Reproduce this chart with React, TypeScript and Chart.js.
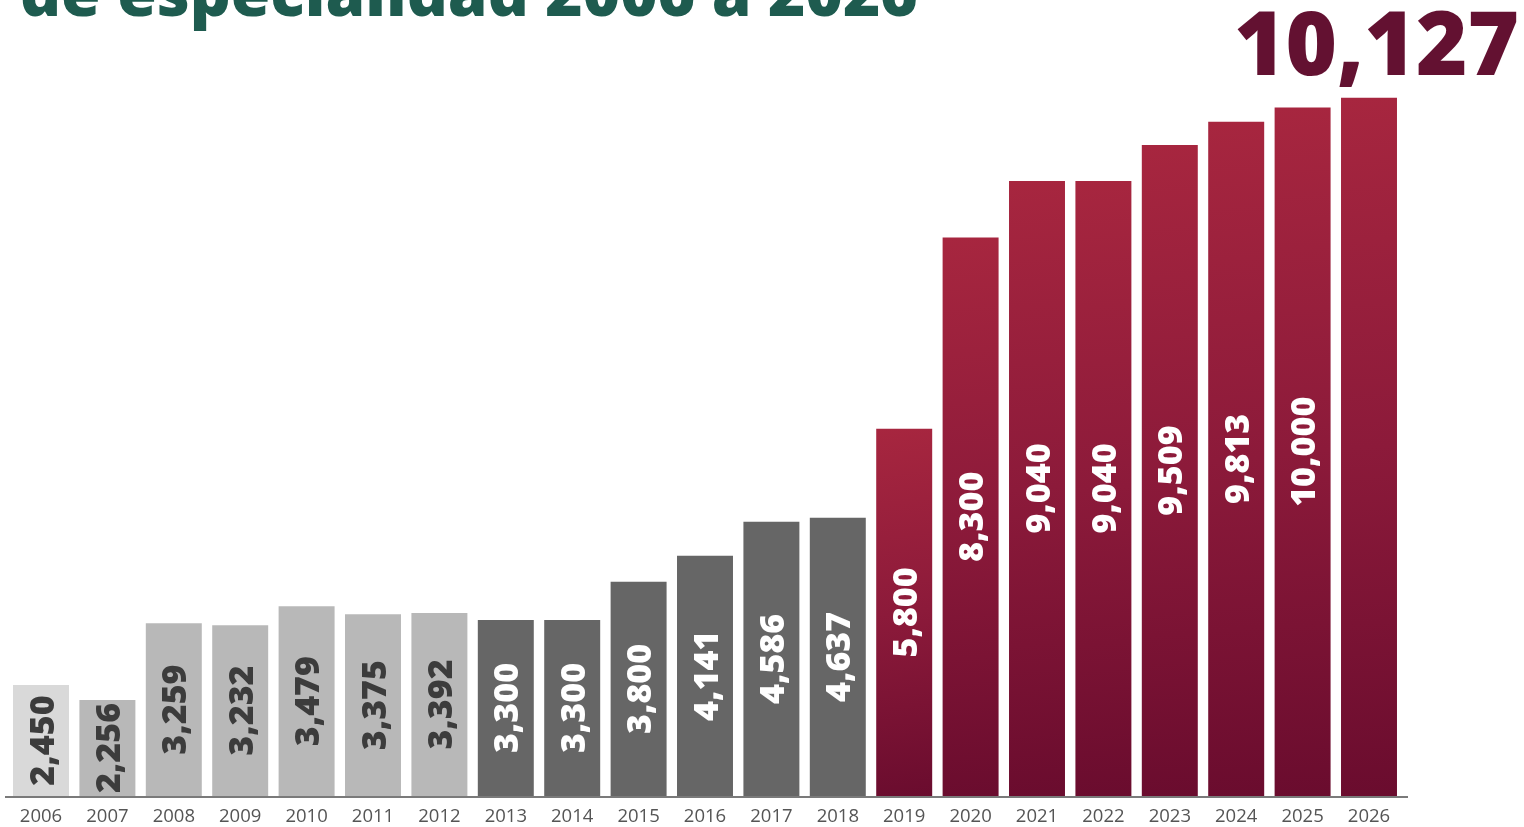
import React, { useEffect, useRef } from "react";
import { Chart, registerables } from "chart.js";

Chart.register(...registerables);

const years = ["2006","2007","2008","2009","2010","2011","2012","2013","2014","2015","2016","2017","2018","2019","2020","2021","2022","2023","2024","2025","2026"];
const plazas = [2450,2256,3259,3232,3479,3375,3392,3300,3300,3800,4141,4586,4637,5800,8300,9040,9040,9509,9813,10000,10127];
const titleLine = "de especialidad 2006 a 2026";
const highlightValue = "10,127";

const Y_MIN = 1000;
const Y_MAX = 10200;

function fmt(v: number) {
  return v.toLocaleString("en-US");
}

function baseColor(i: number) {
  const y = parseInt(years[i], 10);
  if (y <= 2006) return "#d9d9d9";
  if (y <= 2012) return "#b8b8b8";
  if (y <= 2018) return "#666666";
  return "#8a1538";
}

const overlay = {
  id: "overlay",
  afterDatasetsDraw(chart: any) {
    const ctx = chart.ctx as CanvasRenderingContext2D;
    const xS = chart.scales.x;
    const yS = chart.scales.y;
    const base = yS.getPixelForValue(Y_MIN);
    ctx.save();
    // axis line
    ctx.strokeStyle = "#7a7a7a";
    ctx.lineWidth = 2;
    ctx.beginPath();
    ctx.moveTo(5, base + 1);
    ctx.lineTo(1408, base + 1);
    ctx.stroke();
    // tick labels
    ctx.fillStyle = "#555555";
    ctx.font = "18.5px 'Open Sans'";
    ctx.textAlign = "center";
    ctx.textBaseline = "middle";
    years.forEach((yr, i) => {
      ctx.fillText(yr, xS.getPixelForValue(i), base + 21);
    });
    // value labels (last bar's value is shown as the highlight number)
    ctx.font = "800 34px 'Open Sans'";
    plazas.forEach((v, i) => {
      if (i === plazas.length - 1) return;
      const x = xS.getPixelForValue(i);
      const top = yS.getPixelForValue(v);
      const cy = (top + base) / 2;
      ctx.save();
      ctx.translate(x + 1, cy);
      ctx.rotate(-Math.PI / 2);
      ctx.fillStyle = parseInt(years[i], 10) <= 2012 ? "#3c3c3c" : "#ffffff";
      ctx.textAlign = "center";
      ctx.textBaseline = "middle";
      ctx.fillText(fmt(v), 0, 2);
      ctx.restore();
    });
    // title line (partially cut by top edge)
    let ts = 64;
    ctx.font = `800 ${ts}px 'Open Sans'`;
    const w = ctx.measureText(titleLine).width;
    ts = ts * 898 / w;
    ctx.font = `800 ${ts}px 'Open Sans'`;
    ctx.fillStyle = "#1e5b4f";
    ctx.textAlign = "left";
    ctx.textBaseline = "alphabetic";
    ctx.fillText(titleLine, 20, 16);
    // highlight number
    ctx.font = "800 88px 'Open Sans'";
    ctx.fillStyle = "#631131";
    ctx.textAlign = "right";
    ctx.fillText(highlightValue, 1519, 75);
    ctx.restore();
  },
};

export default function App() {
  const ref = useRef<HTMLCanvasElement | null>(null);
  useEffect(() => {
    if (!ref.current) return;
    const chart = new Chart(ref.current, {
      type: "bar",
      data: {
        labels: years,
        datasets: [
          {
            data: plazas,
            backgroundColor: (c: any) => {
              const i = c.dataIndex;
              const chartObj = c.chart;
              if (parseInt(years[i], 10) < 2019 || !chartObj.chartArea) return baseColor(i);
              const xS = chartObj.scales.x;
              const yS = chartObj.scales.y;
              const x = xS.getPixelForValue(i);
              const top = yS.getPixelForValue(plazas[i]);
              const bottom = yS.getPixelForValue(Y_MIN);
              const g = chartObj.ctx.createLinearGradient(x - 28, top, x + 28, bottom);
              g.addColorStop(0, "#a7263f");
              g.addColorStop(0.5, "#8c1a3a");
              g.addColorStop(1, "#6a0c2e");
              return g;
            },
            borderWidth: 0,
            barPercentage: 0.843,
            categoryPercentage: 1,
          },
        ],
      },
      options: {
        responsive: false,
        animation: false,
        layout: { padding: { left: 7.8, right: 121.8, top: 92.2, bottom: 31 } },
        plugins: { legend: { display: false }, tooltip: { enabled: false } },
        scales: {
          x: { display: false, offset: true, grid: { display: false } },
          y: { display: false, min: Y_MIN, max: Y_MAX, grid: { display: false } },
        },
      },
      plugins: [overlay],
    });
    return () => chart.destroy();
  }, []);
  return (
    <div style={{ position: "absolute", left: 0, top: 0, width: 1524, height: 827, background: "#ffffff", overflow: "hidden" }}>
      <canvas ref={ref} width={1524} height={827} />
    </div>
  );
}
